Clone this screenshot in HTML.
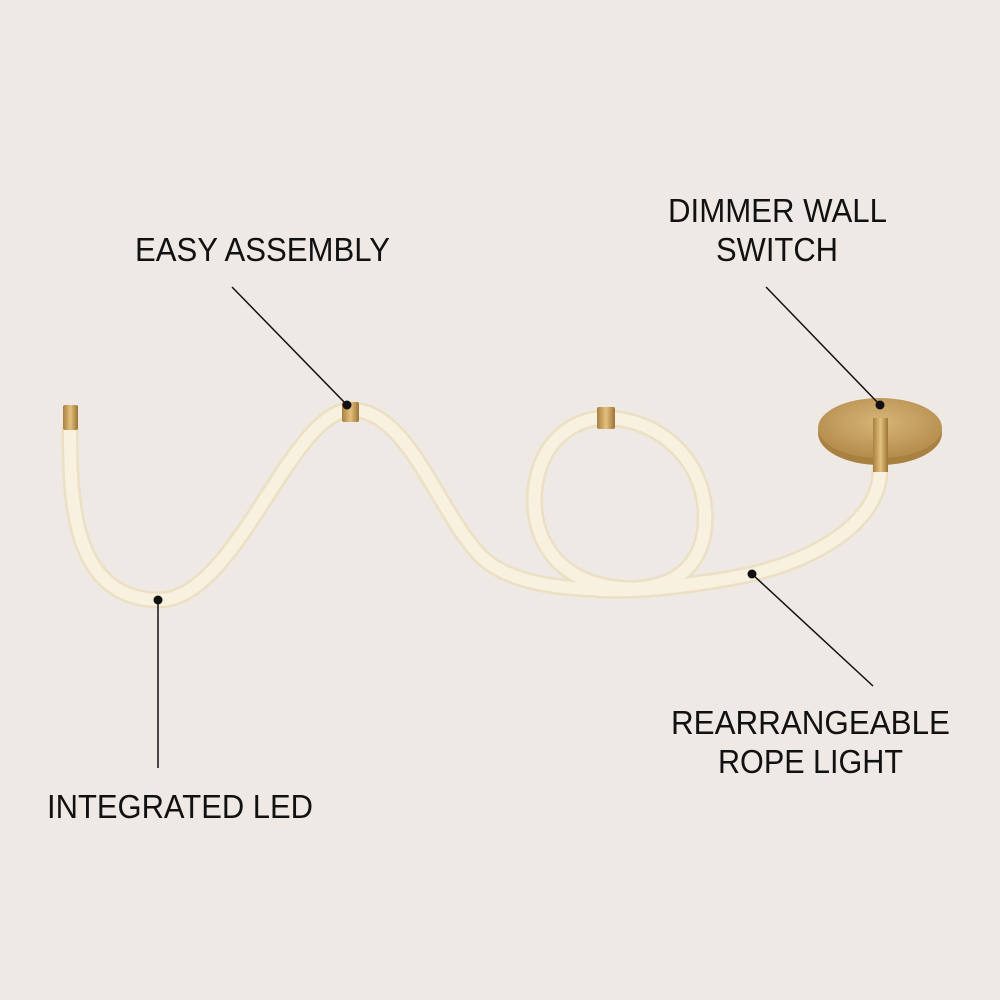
<!DOCTYPE html>
<html><head><meta charset="utf-8"><style>
html,body{margin:0;padding:0;background:#efe9e5;}
svg{display:block}
text{font-family:"Liberation Sans",sans-serif;font-size:33px;fill:#111;}
</style></head><body>
<svg width="1000" height="1000" viewBox="0 0 1000 1000">
<rect width="1000" height="1000" fill="#efe9e5"/>
<defs>
<linearGradient id="g" x1="0" x2="1"><stop offset="0" stop-color="#a9803f"/><stop offset=".5" stop-color="#e3c07e"/><stop offset="1" stop-color="#9c7436"/></linearGradient>
<radialGradient id="d" cx=".5" cy=".4" r=".6"><stop offset="0" stop-color="#d6b577"/><stop offset="1" stop-color="#b48c4c"/></radialGradient>
</defs>
<g fill="none" stroke-linecap="round">
<path id="r1" d="M70,430 C70,500 72,598 158,600 C235,602 290,412 350,410 C410,408 440,520 485,560 C530,598 640,592 705,582"/>
<path id="r2" d="M600,590 C640,592 700,585 752,574 C820,558 880,520 880,470"/>
<path id="r3" d="M650,588 C560,595 530,540 535,490 C540,440 575,418 605,418 C650,418 700,450 705,510 C708,560 680,585 640,588"/>
</g>
<g fill="none" stroke-linecap="round">
<use href="#r1" stroke="#ebdfc4" stroke-width="17"/>
<use href="#r3" stroke="#ebdfc4" stroke-width="17"/>
<use href="#r2" stroke="#ebdfc4" stroke-width="17"/>
<use href="#r1" stroke="#f9f1df" stroke-width="12"/>
<use href="#r3" stroke="#f9f1df" stroke-width="12"/>
<use href="#r2" stroke="#f9f1df" stroke-width="12"/>
</g>
<rect x="63" y="405" width="15" height="25" rx="2" fill="url(#g)"/>
<rect x="342" y="402" width="17" height="20" rx="2" fill="url(#g)"/>
<rect x="597" y="407" width="18" height="22" rx="2" fill="url(#g)"/>
<ellipse cx="880" cy="433" rx="62" ry="32" fill="#a8803f"/>
<ellipse cx="880" cy="428" rx="62" ry="30" fill="url(#d)"/>
<rect x="873" y="418" width="15" height="54" fill="url(#g)"/>
<g stroke="#111" stroke-width="1.5">
<line x1="232" y1="287" x2="347" y2="405"/>
<line x1="766" y1="287" x2="880" y2="405"/>
<line x1="158" y1="600" x2="158" y2="768"/>
<line x1="752" y1="574" x2="873" y2="686"/>
</g>
<g fill="#111">
<circle cx="347" cy="405" r="4.5"/><circle cx="880" cy="405" r="4.5"/>
<circle cx="158" cy="600" r="4.5"/><circle cx="752" cy="574" r="4.5"/>
</g>
<text x="135" y="261" textLength="255" lengthAdjust="spacingAndGlyphs">EASY ASSEMBLY</text>
<text x="668" y="222" textLength="219" lengthAdjust="spacingAndGlyphs">DIMMER WALL</text>
<text x="716" y="261" textLength="122" lengthAdjust="spacingAndGlyphs">SWITCH</text>
<text x="47" y="818" textLength="266" lengthAdjust="spacingAndGlyphs">INTEGRATED LED</text>
<text x="671" y="734" textLength="279" lengthAdjust="spacingAndGlyphs">REARRANGEABLE</text>
<text x="718" y="773" textLength="185" lengthAdjust="spacingAndGlyphs">ROPE LIGHT</text>
</svg>
</body></html>
